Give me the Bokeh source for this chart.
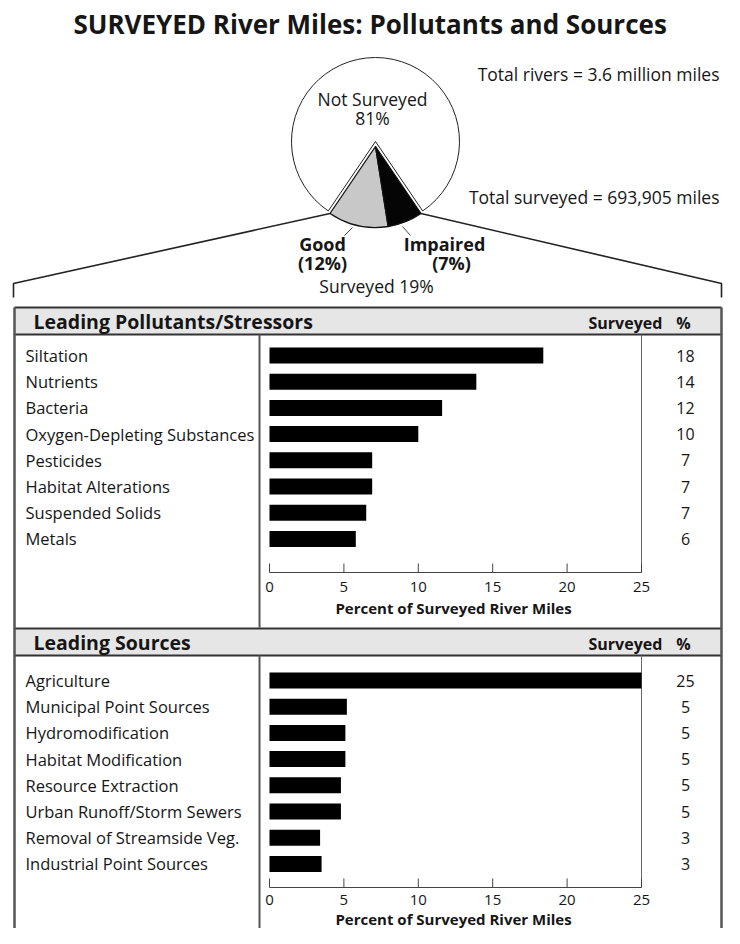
import math
from bokeh.plotting import figure
from bokeh.models import Range1d
from bokeh.core.properties import value
from bokeh.embed import file_html
from bokeh.resources import INLINE

# ---------------- data ----------------
title_text = "SURVEYED River Miles:  Pollutants and Sources"
pie_labels = ["Not Surveyed", "Good", "Impaired"]
pie_values = [81, 12, 7]
total_rivers_text = "Total rivers = 3.6 million miles"
total_surveyed_text = "Total surveyed = 693,905 miles"

pollutants = ["Siltation", "Nutrients", "Bacteria", "Oxygen-Depleting Substances",
              "Pesticides", "Habitat Alterations", "Suspended Solids", "Metals"]
pollutant_values = [18.4, 13.9, 11.6, 10.0, 6.9, 6.9, 6.5, 5.8]
pollutant_labels = ["18", "14", "12", "10", "7", "7", "7", "6"]

sources = ["Agriculture", "Municipal Point Sources", "Hydromodification",
           "Habitat Modification", "Resource Extraction", "Urban Runoff/Storm Sewers",
           "Removal of Streamside Veg.", "Industrial Point Sources"]
source_values = [25.0, 5.2, 5.1, 5.1, 4.8, 4.8, 3.4, 3.5]
source_labels = ["25", "5", "5", "5", "5", "5", "3", "3"]

x_ticks = [0, 5, 10, 15, 20, 25]
x_title = "Percent of Surveyed  River Miles"
panel_titles = ["Leading Pollutants/Stressors", "Leading Sources"]
col_header = ["Surveyed", "%"]

# ---------------- styling / layout ----------------
FONT = value("Open Sans")
TXT = "#161616"
W, H = 724, 928
X0, X1 = 0, W              # main coordinates == picture pixels
Y0, Y1 = 0, H
RIGHT = 721                # right frame edge
BAR_L, BAR_R = 269, 641    # pixel position of 0 and 25 %
ROW_STEP = 26.2
PCT_MAX = 25.0

p = figure(width=W, height=H, output_backend="svg", toolbar_location=None,
           x_range=Range1d(X0, X1), y_range=Range1d(Y1, Y0),
           x_axis_location=None, y_axis_location=None, min_border=0)
p.grid.visible = False
p.outline_line_color = None
p.background_fill_color = "white"

# percent scale for bars
p.extra_x_ranges = {
    "pct": Range1d((X0 - BAR_L) / (BAR_R - BAR_L) * PCT_MAX,
                   (X1 - BAR_L) / (BAR_R - BAR_L) * PCT_MAX)
}

def rows_range(first_row_px):
    return Range1d((Y1 - first_row_px) / ROW_STEP, (Y0 - first_row_px) / ROW_STEP)

p.extra_y_ranges = {"rows1": rows_range(355), "rows2": rows_range(680)}

def txt(x, y, s, size="14px", align="left", bold=False, **kw):
    p.text(x=[x], y=[y], text=[s], text_font=FONT, text_font_size=size,
           text_align=align, text_baseline="middle",
           text_font_style="bold" if bold else "normal", text_color=TXT, **kw)

# ---------------- title ----------------
txt(373, 23, title_text, size="26px", align="center", bold=True)

# ---------------- pie ----------------
not_surv, good, impaired = pie_values
surveyed = good + impaired
deg = 360.0 / sum(pie_values)
a_start = 270 - surveyed * deg / 2
a_good_end = a_start + good * deg
a_imp_end = a_good_end + impaired * deg

cx, cy, r_big = 375, 141, 84
sx, sy, r_sl = 375, 146, 81

p.wedge(x=[cx], y=[cy], radius=r_big, start_angle=a_imp_end, end_angle=a_start + 360,
        start_angle_units="deg", end_angle_units="deg", direction="anticlock",
        fill_color="white", line_color="#222", line_width=1)
p.wedge(x=[sx, sx], y=[sy, sy], radius=r_sl,
        start_angle=[a_start, a_good_end], end_angle=[a_good_end, a_imp_end],
        start_angle_units="deg", end_angle_units="deg", direction="anticlock",
        fill_color=["#c8c8c8", "#050505"], line_color="#111", line_width=1.3)

txt(372, 98, pie_labels[0], size="17.5px", align="center")
txt(372, 117, f"{not_surv}%", size="17.5px", align="center")
txt(719, 73, total_rivers_text, size="17.5px", align="right")
txt(719, 196, total_surveyed_text, size="17.5px", align="right")
txt(322, 243, pie_labels[1], size="18px", align="center", bold=True)
txt(322, 262, f"({good}%)", size="18px", align="center", bold=True)
txt(444, 243, pie_labels[2], size="18px", align="center", bold=True)
txt(451, 262, f"({impaired}%)", size="18px", align="center", bold=True)
txt(376, 285, f"Surveyed {surveyed}%", size="17.5px", align="center")

# connecting (explode) lines from slice corners to the panel
lx = sx + r_sl * math.cos(math.radians(a_start))
ly = sy - r_sl * math.sin(math.radians(a_start))
rx = sx + r_sl * math.cos(math.radians(a_imp_end))
ry = sy - r_sl * math.sin(math.radians(a_imp_end))
p.line(x=[lx, 13, 13], y=[ly, 283, 297], line_color="#222", line_width=1.6)
p.line(x=[rx, RIGHT, RIGHT], y=[ry, 283, 297], line_color="#222", line_width=1.6)
# leader ticks to labels
p.segment(x0=[352, 402], y0=[227, 226], x1=[344, 410], y1=[235, 235],
          line_color="#444", line_width=1)

# ---------------- panels ----------------
FRAME = "#555"

def panel(top, names, vals, labs, title, yname, first_row_px, axis_off, lab_off, title_off):
    hdr_bot = top + 27
    axis_y = first_row_px + axis_off
    bottom = top + 320
    # header band
    p.quad(left=[14], right=[RIGHT], top=[top], bottom=[hdr_bot],
           fill_color="#e6e6e6", line_color=None)
    p.segment(x0=[14, 14], y0=[top, hdr_bot], x1=[RIGHT, RIGHT], y1=[top, hdr_bot],
              line_color="#333", line_width=2)
    txt(33, top + 14, title, size="19.5px", bold=True)
    txt(588, top + 15, col_header[0], size="16px", bold=True)
    txt(683, top + 15, col_header[1], size="16px", align="center", bold=True)
    # label column divider and bar-area right border
    p.segment(x0=[259], y0=[hdr_bot], x1=[259], y1=[min(bottom, Y1)],
              line_color=FRAME, line_width=2)
    p.segment(x0=[BAR_R], y0=[hdr_bot], x1=[BAR_R], y1=[axis_y],
              line_color="#666", line_width=1)
    idx = list(range(len(names)))
    # category labels
    p.text(x=[25] * len(names), y=idx, text=names, y_range_name=yname,
           text_font=FONT, text_font_size="16.5px", text_baseline="middle",
           text_color=TXT)
    # bars
    p.hbar(y=idx, left=0, right=vals, height=0.61, x_range_name="pct",
           y_range_name=yname, fill_color="black", line_color=None)
    # value column
    p.text(x=[685] * len(names), y=idx, text=labs, y_range_name=yname,
           text_font=FONT, text_font_size="16px", text_baseline="middle",
           text_align="center", text_color=TXT)
    # axis
    p.segment(x0=[0], y0=[axis_y], x1=[PCT_MAX], y1=[axis_y], x_range_name="pct",
              line_color="#444", line_width=1)
    p.segment(x0=x_ticks, y0=[axis_y - 9] * len(x_ticks), x1=x_ticks,
              y1=[axis_y] * len(x_ticks), x_range_name="pct",
              line_color="#444", line_width=1)
    p.text(x=x_ticks, y=[axis_y + lab_off] * len(x_ticks), text=[str(t) for t in x_ticks],
           x_range_name="pct", text_font=FONT, text_font_size="15px",
           text_align="center", text_baseline="middle", text_color=TXT)
    txt(BAR_L + (BAR_R - BAR_L) / 2, axis_y + title_off, x_title, size="15px",
        align="center", bold=True)

panel(307, pollutants, pollutant_values, pollutant_labels, panel_titles[0], "rows1",
      355, 217, 14, 35)
panel(628, sources, source_values, source_labels, panel_titles[1], "rows2",
      680, 207, 12, 31)

# outer frame verticals
p.segment(x0=[14, RIGHT], y0=[307, 307], x1=[14, RIGHT], y1=[Y1, Y1],
          line_color=FRAME, line_width=2.5)

open("out.html", "w").write(file_html(p, INLINE))
